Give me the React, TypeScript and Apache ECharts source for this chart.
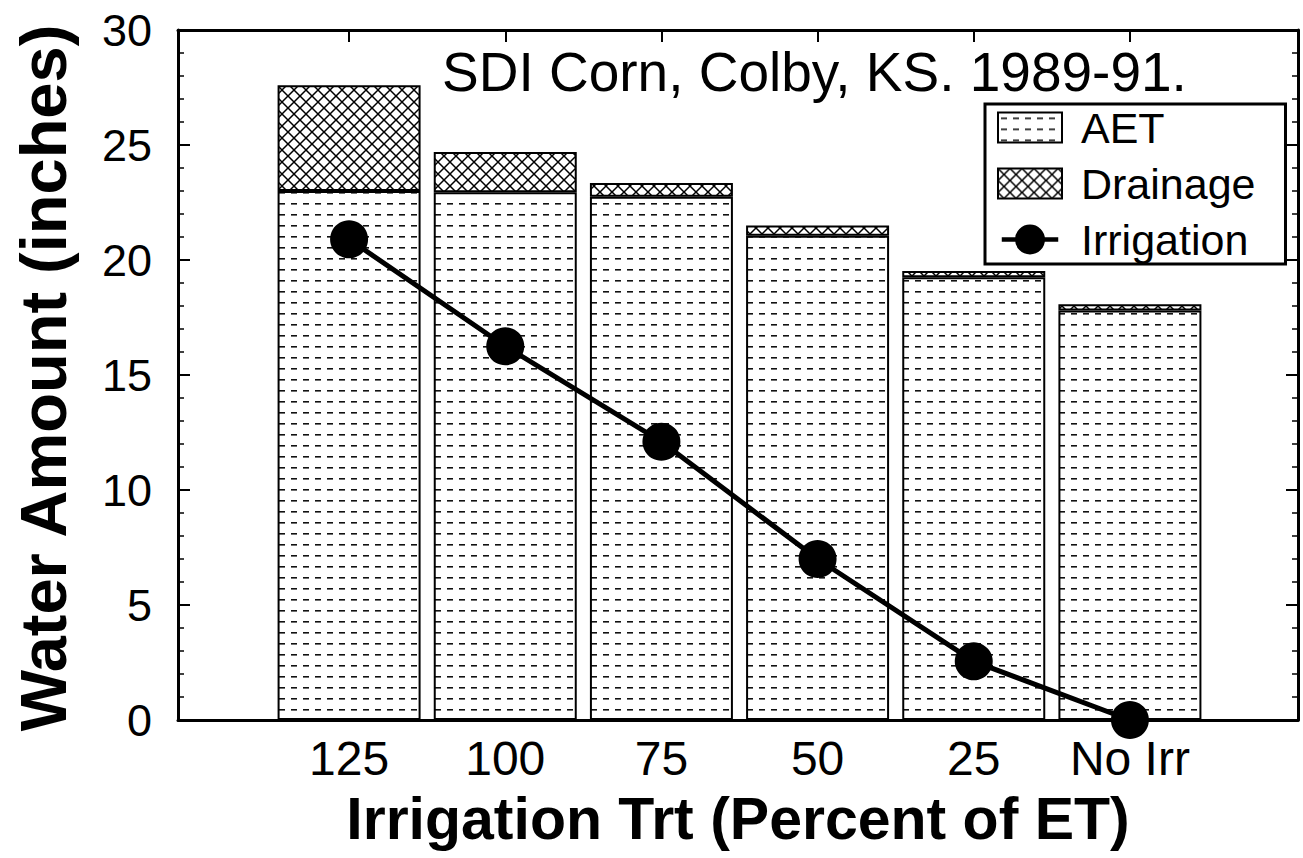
import React, { useEffect, useRef } from 'react';
import * as echarts from 'echarts';

const categories = ['125', '100', '75', '50', '25', 'No Irr'];
const aetValues = [23.0, 22.95, 22.75, 21.05, 19.25, 17.8];
const drainageValues = [4.6, 1.75, 0.6, 0.45, 0.27, 0.28];
const irrigationValues = [20.9, 16.25, 12.1, 7.0, 2.55, 0.0];
const seriesNames = ['AET', 'Drainage', 'Irrigation'];
const titleText = 'SDI Corn, Colby, KS. 1989-91.';
const xAxisTitle = 'Irrigation Trt (Percent of ET)';
const yAxisTitle = 'Water Amount (inches)';

const FONT = '"Liberation Sans", Arial, Helvetica, sans-serif';

function makePattern(kind: 'dash' | 'cross'): HTMLCanvasElement {
  const c = document.createElement('canvas');
  const ctx = c.getContext('2d') as CanvasRenderingContext2D;
  if (kind === 'dash') {
    c.width = 12;
    c.height = 11;
    ctx.fillStyle = '#fff';
    ctx.fillRect(0, 0, 12, 11);
    ctx.fillStyle = '#111';
    ctx.fillRect(3, 5, 6, 1.6);
  } else {
    c.width = 12;
    c.height = 12;
    ctx.fillStyle = '#fff';
    ctx.fillRect(0, 0, 12, 12);
    ctx.strokeStyle = '#000';
    ctx.lineWidth = 1.5;
    ctx.beginPath();
    ctx.moveTo(0, 0);
    ctx.lineTo(12, 12);
    ctx.moveTo(12, 0);
    ctx.lineTo(0, 12);
    ctx.stroke();
  }
  return c;
}

const irrigationIcon =
  'path://M0,14.5 L64,14.5 L64,19.5 L0,19.5 Z M49,17 A17,17 0 1,1 15,17 A17,17 0 1,1 49,17 Z';

export default function App() {
  const ref = useRef<HTMLDivElement>(null);

  useEffect(() => {
    if (!ref.current) return;
    const chart = echarts.init(ref.current, undefined, { renderer: 'svg' });
    const dashPat = makePattern('dash');
    const crossPat = makePattern('cross');

    const axisLine = { show: true, onZero: false, lineStyle: { color: '#000', width: 3 } };
    const majorTick = { show: true, inside: true, length: 12, lineStyle: { color: '#000', width: 2 } };
    const minorTick = { show: true, splitNumber: 5, length: 6, lineStyle: { color: '#000', width: 1.5 } };

    chart.setOption({
      animation: false,
      backgroundColor: '#fff',
      title: {
        text: titleText,
        left: 437,
        top: 39,
        textStyle: { fontFamily: FONT, fontSize: 55, fontWeight: 'normal', color: '#000' },
      },
      legend: {
        orient: 'vertical',
        left: 985,
        top: 104,
        icon: 'rect',
        itemWidth: 64,
        itemHeight: 30,
        itemGap: 13,
        padding: [2, 30, 3, 12],
        borderColor: '#000',
        borderWidth: 3,
        backgroundColor: '#fff',
        itemStyle: { borderColor: '#000', borderWidth: 2 },
        textStyle: { fontFamily: FONT, fontSize: 43, color: '#000', padding: [0, 0, 0, 14] },
        data: [
          seriesNames[0],
          seriesNames[1],
          { name: seriesNames[2], icon: irrigationIcon, itemStyle: { borderWidth: 0, color: '#000' } },
        ],
      },
      grid: [
        { left: 178, right: 5, top: 30, bottom: 138 },
        { left: 271, right: 95, top: 30, bottom: 138 },
      ],
      xAxis: [
        {
          gridIndex: 0,
          type: 'value',
          min: 0,
          max: 1,
          position: 'bottom',
          axisLine,
          axisTick: { show: false },
          axisLabel: { show: false },
          splitLine: { show: false },
          name: xAxisTitle,
          nameLocation: 'middle',
          nameGap: 69,
          nameTextStyle: { fontFamily: FONT, fontSize: 59, fontWeight: 'bold', color: '#000' },
        },
        {
          gridIndex: 0,
          type: 'value',
          min: 0,
          max: 1,
          position: 'top',
          axisLine,
          axisTick: { show: false },
          axisLabel: { show: false },
          splitLine: { show: false },
        },
        {
          gridIndex: 1,
          type: 'category',
          data: categories,
          position: 'bottom',
          axisLine: { show: false, onZero: false },
          axisTick: { ...majorTick, alignWithLabel: true },
          axisLabel: { fontFamily: FONT, fontSize: 48, color: '#000', margin: 14 },
          splitLine: { show: false },
        },
        {
          gridIndex: 1,
          type: 'category',
          data: categories,
          position: 'top',
          axisLine: { show: false, onZero: false },
          axisTick: { ...majorTick, alignWithLabel: true },
          axisLabel: { show: false },
          splitLine: { show: false },
        },
      ],
      yAxis: [
        {
          gridIndex: 0,
          type: 'value',
          min: 0,
          max: 30,
          interval: 5,
          position: 'left',
          axisLine,
          axisTick: majorTick,
          minorTick,
          axisLabel: { fontFamily: FONT, fontSize: 45, color: '#000', margin: 26 },
          splitLine: { show: false },
          name: yAxisTitle,
          nameLocation: 'middle',
          nameGap: 102,
          nameRotate: 90,
          nameTextStyle: { fontFamily: FONT, fontSize: 65, fontWeight: 'bold', color: '#000', padding: [0, 6, 0, 0] },
        },
        {
          gridIndex: 0,
          type: 'value',
          min: 0,
          max: 30,
          interval: 5,
          position: 'right',
          axisLine,
          axisTick: majorTick,
          minorTick,
          axisLabel: { show: false },
          splitLine: { show: false },
        },
        {
          gridIndex: 1,
          type: 'value',
          min: 0,
          max: 30,
          show: false,
          splitLine: { show: false },
        },
      ],
      series: [
        {
          name: seriesNames[0],
          type: 'bar',
          xAxisIndex: 2,
          yAxisIndex: 2,
          stack: 'water',
          barWidth: 143,
          data: aetValues,
          itemStyle: {
            color: { image: dashPat, repeat: 'repeat' },
            borderColor: '#000',
            borderWidth: 2,
          },
        },
        {
          name: seriesNames[1],
          type: 'bar',
          xAxisIndex: 2,
          yAxisIndex: 2,
          stack: 'water',
          barWidth: 143,
          data: drainageValues,
          itemStyle: {
            color: { image: crossPat, repeat: 'repeat' },
            borderColor: '#000',
            borderWidth: 2,
          },
        },
        {
          name: seriesNames[2],
          type: 'line',
          xAxisIndex: 2,
          yAxisIndex: 2,
          data: irrigationValues,
          symbol: 'circle',
          symbolSize: 38,
          color: '#000',
          itemStyle: { color: '#000' },
          lineStyle: { color: '#000', width: 5 },
          z: 5,
        },
      ],
    });

    return () => chart.dispose();
  }, []);

  return (
    <div
      ref={ref}
      style={{ position: 'fixed', left: 0, top: 0, width: 1303, height: 858, background: '#fff' }}
    />
  );
}
